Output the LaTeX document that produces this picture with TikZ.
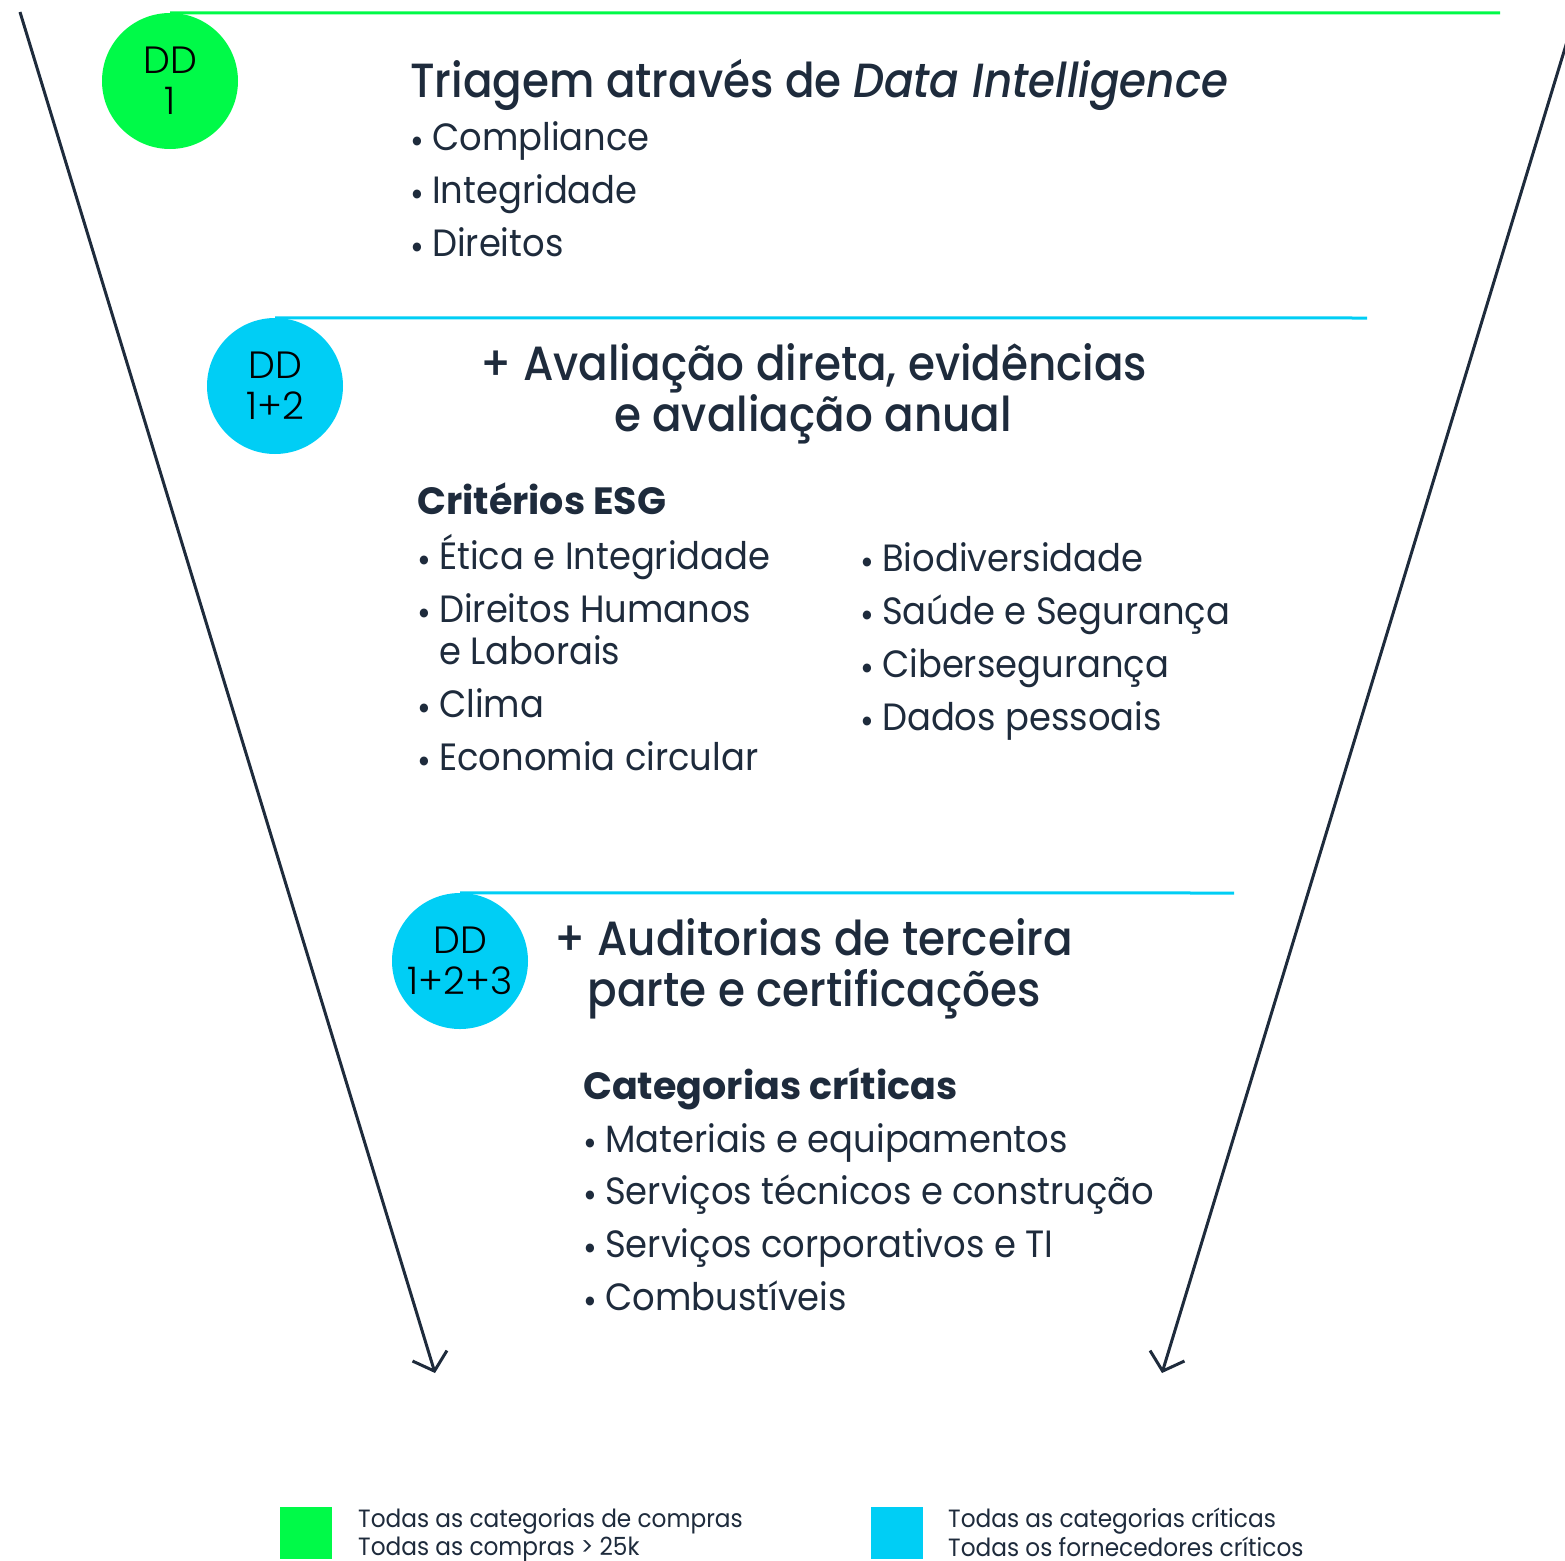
\documentclass[tikz,border=0pt]{standalone}
\usepackage{fontspec}
\setmainfont{Poppins}
\newfontfamily\bodyfont{Poppins}[FakeStretch=0.93]
\newfontfamily\headfont{Poppins Medium}[FakeStretch=0.91]
\newfontfamily\lightfont{Poppins Light}
\usetikzlibrary{arrows.meta,positioning}

\definecolor{ddgreen}{HTML}{00FA48}
\definecolor{ddcyan}{HTML}{00CEF5}
\definecolor{ink}{HTML}{1E2B3C}

% bullet with fixed indent
\newcommand{\bul}{\makebox[22pt][l]{\raisebox{-3pt}{\fontsize{36}{36}\selectfont\textbullet}}}

\begin{document}
\begin{tikzpicture}[
  x=1pt, y=-1pt,
  ddcircle/.style={circle, minimum size=136pt, inner sep=0pt, align=center, text=black,
    font=\lightfont\fontsize{38}{41}\selectfont},
  rule/.style={line width=3pt},
  funnel/.style={line width=3pt, draw=ink, -{Straight Barb[length=16pt,width=36pt]}},
  headline/.style={anchor=base, inner sep=0pt, text=ink, font=\headfont\fontsize{48}{50}\selectfont},
  subhead/.style={anchor=base west, inner sep=0pt, text=ink, font=\bfseries\fontsize{38}{40}\selectfont},
  item/.style={anchor=base west, inner sep=0pt, text=ink, align=left, font=\bodyfont\fontsize{38}{42}\selectfont},
  legsq/.style={rectangle, minimum size=52pt, inner sep=0pt},
  legtext/.style={anchor=north west, inner sep=0pt, text=ink, align=left, font=\bodyfont\fontsize{25}{28.5}\selectfont}
]
\useasboundingbox (0,0) rectangle (1565,1560);

% funnel sides
\coordinate (ltop) at (20,12);
\coordinate (ltip) at (435,1373);
\coordinate (rtop) at (1576,12);
\coordinate (rtip) at (1162,1373);
\draw[funnel] (ltop) -- (ltip);
\draw[funnel] (rtop) -- (rtip);

% stage circles
\node[ddcircle, fill=ddgreen] (dd1) at (170,81) {DD\\1};
\node[ddcircle, fill=ddcyan] (dd2) at (275,386) {DD\\1+2};
\node[ddcircle, fill=ddcyan] (dd3) at (460,961) {DD\\1+2+3};

% stage rules
\coordinate (g1end) at (1500,13);
\coordinate (c2end) at (1367,318);
\coordinate (c3end) at (1234,893);
\draw[rule, ddgreen] (dd1.north) -- (g1end);
\draw[rule, ddcyan] (dd2.north) -- (c2end);
\draw[rule, ddcyan] (dd3.north) -- (c3end);

% DD 1
\node[headline, anchor=base west] (tri) at (410,98) {Triagem através de \textit{Data Intelligence}};
\foreach \txt [count=\i] in {Compliance, Integridade, Direitos}
  \node[item] (tri\i) at (410,150+53*\i-53) {\bul\txt};

% DD 1+2
\node[headline] (ava1) at (814,380) {+ Avaliação direta, evidências};
\node[headline] (ava2) at (813,431) {e avaliação anual};
\node[subhead] (esg) at (417,514) {Critérios ESG};
\node[item] (esg1) at (417,569) {\bul Ética e Integridade};
\node[item] (esg2) at (417,664) {\bul Direitos Humanos\\\hspace*{22pt}e Laborais};
\node[item] (esg3) at (417,717) {\bul Clima};
\node[item] (esg4) at (417,770) {\bul Economia circular};
\foreach \txt [count=\i] in {Biodiversidade, Saúde e Segurança, Cibersegurança, Dados pessoais}
  \node[item] (esgb\i) at (860,571+53*\i-53) {\bul\txt};

% DD 1+2+3
\node[headline] (aud1) at (814,955) {+ Auditorias de terceira};
\node[headline] (aud2) at (814,1006) {parte e certificações};
\node[subhead] (cat) at (583,1099) {Categorias críticas};
\foreach \txt [count=\i] in {Materiais e equipamentos, Serviços técnicos e construção,
    Serviços corporativos e TI, Combustíveis}
  \node[item] (cat\i) at (583,1152+52.7*\i-52.7) {\bul\txt};

% legend
\node[legsq, fill=ddgreen] (lg1) at (306,1533) {};
\node[legtext] (lt1) at (358,1508) {Todas as categorias de compras\\Todas as compras > 25k};
\node[legsq, fill=ddcyan] (lg2) at (897,1533) {};
\node[legtext] (lt2) at (948,1508) {Todas as categorias críticas\\Todas os fornecedores críticos};
\end{tikzpicture}
\end{document}
